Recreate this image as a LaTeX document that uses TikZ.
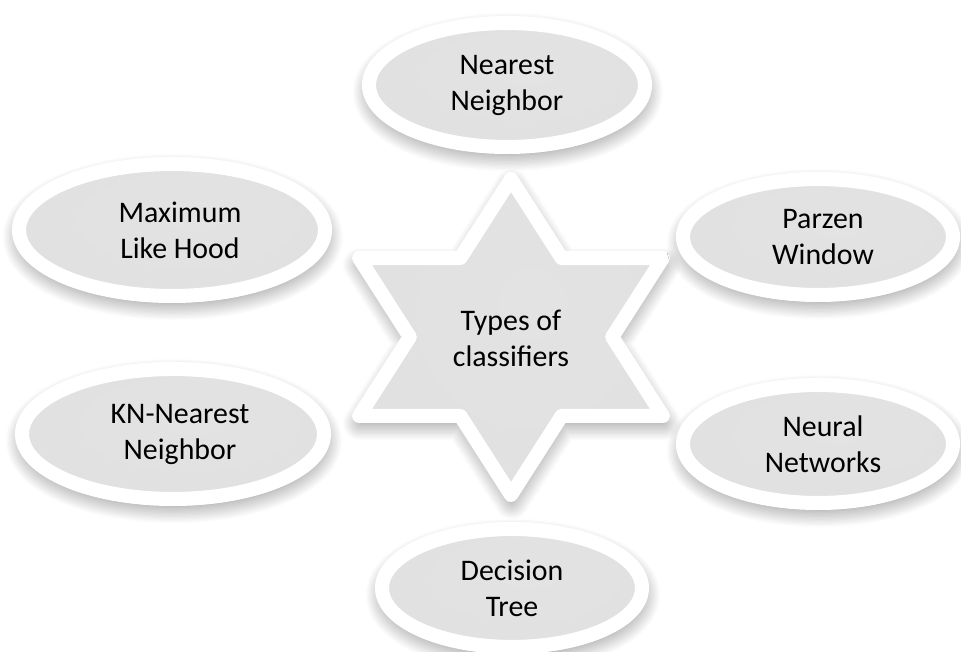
\documentclass[tikz,border=0pt]{standalone}
\usepackage{fontspec}
\setmainfont{Carlito}
\usetikzlibrary{shapes.geometric,shadows.blur}

\pgfdeclareradialshading{smusso}{\pgfpoint{4bp}{6bp}}{color(0bp)=(black!11); color(32bp)=(black!12); color(42bp)=(black!16); color(47bp)=(black!30); color(50bp)=(black!42)}

\tikzset{
  ombra/.style={blur shadow={shadow xshift=0.5pt, shadow yshift=-4pt, shadow blur radius=10pt, shadow blur steps=14, shadow opacity=50}},
  bolla/.style={ellipse, ombra, draw=white, line width=8pt, shade, shading=smusso, inner sep=0pt},
  stella/.style={ombra, draw=white, line width=8pt, line join=round, shade, shading=smusso},
  testo/.style={align=center, text=black, font=\fontsize{17}{20.5}\selectfont},
}

\begin{document}
\begin{tikzpicture}[x=0.02cm,y=-0.02cm]
    \useasboundingbox (0,0) rectangle (961,652);

    % stella
    \begin{scope}[shift={(511,337)},xscale=1.11]
        \draw[stella] (90:158) -- (60:91.2) -- (30:158) -- (0:91.2) -- (-30:158) -- (-60:91.2)
            -- (-90:158) -- (-120:91.2) -- (-150:158) -- (180:91.2) -- (150:158) -- (120:91.2) -- cycle;
    \end{scope}
    \node[testo] (centro) at (511,338) {Types of\\classifiers};

    % ellissi
    \node[bolla,minimum width=5.52cm,minimum height=2.48cm] (vicino) at (507,85) {};
    \node[bolla,minimum width=6.12cm,minimum height=2.64cm] (massima) at (172,230) {};
    \node[bolla,minimum width=5.4cm,minimum height=2.32cm] (parzen) at (818,237) {};
    \node[bolla,minimum width=6.04cm,minimum height=2.6cm] (knn) at (173,434) {};
    \node[bolla,minimum width=5.4cm,minimum height=2.36cm] (neurali) at (818,444) {};
    \node[bolla,minimum width=5.2cm,minimum height=2.36cm] (albero) at (512,588) {};

    % etichette
    \node[testo] at (vicino.center) {Nearest\\Neighbor};
    \node[testo] at ([xshift=0.16cm]massima.center) {Maximum\\Like Hood};
    \node[testo] at ([xshift=0.1cm]parzen.center) {Parzen\\Window};
    \node[testo] at ([xshift=0.14cm]knn.center) {KN-Nearest\\Neighbor};
    \node[testo] at ([xshift=0.1cm]neurali.center) {Neural\\Networks};
    \node[testo] at (albero.center) {Decision\\Tree};
\end{tikzpicture}
\end{document}
